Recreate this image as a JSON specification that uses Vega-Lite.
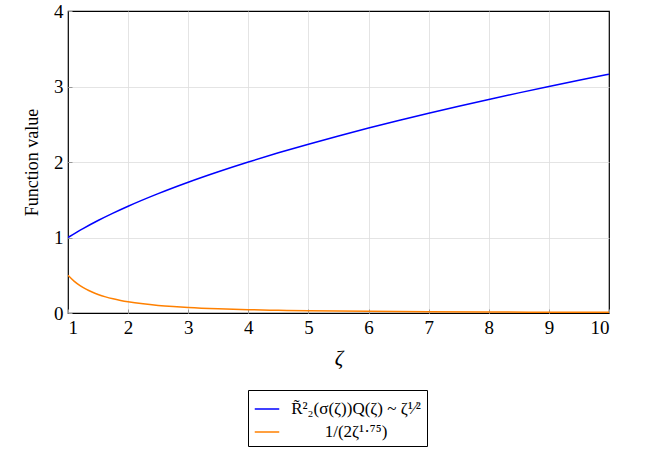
{
  "$schema": "https://vega.github.io/schema/vega-lite/v6.json",
  "width": 541,
  "height": 302,
  "autosize": "none",
  "padding": {"left": 68, "top": 11, "right": 51, "bottom": 138},
  "background": "white",
  "config": {
    "font": "Liberation Serif",
    "view": {"stroke": "black", "strokeWidth": 1.2},
    "axis": {
      "labelFont": "Liberation Serif, serif",
      "titleFont": "Liberation Serif, serif",
      "labelFontSize": 19,
      "titleFontSize": 18,
      "labelColor": "black",
      "titleColor": "black",
      "titleFontWeight": "normal",
      "domain": false,
      "gridWidth": 0.8,
      "tickColor": "#999999",
      "tickSize": -4,
      "labelPadding": 9
    }
  },
  "data": {
    "values": [
      {"x": 1, "y": 1, "s": "A"},
      {"x": 1.25, "y": 1.118, "s": "A"},
      {"x": 1.5, "y": 1.2247, "s": "A"},
      {"x": 1.75, "y": 1.3229, "s": "A"},
      {"x": 2, "y": 1.4142, "s": "A"},
      {"x": 2.5, "y": 1.5811, "s": "A"},
      {"x": 3, "y": 1.7321, "s": "A"},
      {"x": 3.5, "y": 1.8708, "s": "A"},
      {"x": 4, "y": 2.0, "s": "A"},
      {"x": 4.5, "y": 2.1213, "s": "A"},
      {"x": 5, "y": 2.2361, "s": "A"},
      {"x": 5.5, "y": 2.3452, "s": "A"},
      {"x": 6, "y": 2.4495, "s": "A"},
      {"x": 6.5, "y": 2.5495, "s": "A"},
      {"x": 7, "y": 2.6458, "s": "A"},
      {"x": 7.5, "y": 2.7386, "s": "A"},
      {"x": 8, "y": 2.8284, "s": "A"},
      {"x": 8.5, "y": 2.9155, "s": "A"},
      {"x": 9, "y": 3.0, "s": "A"},
      {"x": 9.5, "y": 3.0822, "s": "A"},
      {"x": 10, "y": 3.1623, "s": "A"},
      {"x": 1, "y": 0.5, "s": "B"},
      {"x": 1.1, "y": 0.4224, "s": "B"},
      {"x": 1.2, "y": 0.3635, "s": "B"},
      {"x": 1.3, "y": 0.3159, "s": "B"},
      {"x": 1.4, "y": 0.2777, "s": "B"},
      {"x": 1.5, "y": 0.2459, "s": "B"},
      {"x": 1.625, "y": 0.2134, "s": "B"},
      {"x": 1.75, "y": 0.1878, "s": "B"},
      {"x": 1.875, "y": 0.1667, "s": "B"},
      {"x": 2, "y": 0.1487, "s": "B"},
      {"x": 2.25, "y": 0.1210, "s": "B"},
      {"x": 2.5, "y": 0.1006, "s": "B"},
      {"x": 2.75, "y": 0.0853, "s": "B"},
      {"x": 3, "y": 0.0731, "s": "B"},
      {"x": 3.5, "y": 0.0558, "s": "B"},
      {"x": 4, "y": 0.0442, "s": "B"},
      {"x": 4.5, "y": 0.0360, "s": "B"},
      {"x": 5, "y": 0.0299, "s": "B"},
      {"x": 6, "y": 0.0217, "s": "B"},
      {"x": 7, "y": 0.0166, "s": "B"},
      {"x": 8, "y": 0.0131, "s": "B"},
      {"x": 9, "y": 0.0107, "s": "B"},
      {"x": 10, "y": 0.0089, "s": "B"}
    ]
  },
  "mark": {"type": "line", "interpolate": "monotone", "strokeWidth": 1.5, "clip": true},
  "encoding": {
    "x": {
      "field": "x", "type": "quantitative",
      "scale": {"domain": [1, 10], "nice": false},
      "axis": {
        "values": [1,2,3,4,5,6,7,8,9,10],
        "labelFont": "Liberation Serif, serif",
        "title": "ζ", "titleFontStyle": "italic", "titleFontSize": 21, "titlePadding": 10,
        "gridColor": {"condition": {"test": "datum.value == 1 || datum.value == 10", "value": "transparent"}, "value": "#dddddd"}
      }
    },
    "y": {
      "field": "y", "type": "quantitative",
      "scale": {"domain": [0, 4], "nice": false},
      "axis": {
        "values": [0,1,2,3,4], "title": "Function value", "titlePadding": 12,
        "labelFont": "Liberation Serif, serif",
        "gridColor": {"condition": {"test": "datum.value == 0 || datum.value == 4", "value": "transparent"}, "value": "#dddddd"}
      }
    },
    "color": {
      "field": "s", "type": "nominal",
      "scale": {"domain": ["A", "B"], "range": ["#0000ff", "#ff8000"]},
      "legend": {
        "title": null,
        "orient": "none",
        "legendX": 180,
        "legendY": 379,
        "direction": "vertical",
        "symbolType": "stroke",
        "symbolSize": 600,
        "symbolStrokeWidth": 1.5,
        "labelFont": "Liberation Serif, serif",
        "labelFontSize": 17,
        "labelColor": "black",
        "labelAlign": "center",
        "labelOffset": 76,
        "labelExpr": "datum.value == 'A' ? 'R̃²₂(σ(ζ))Q(ζ) ~ ζ¹⁄²' : '1/(2ζ¹·⁷⁵)'",
        "strokeColor": "black",
        "padding": 6,
        "rowPadding": 2,
        "offset": 0
      }
    }
  }
}
